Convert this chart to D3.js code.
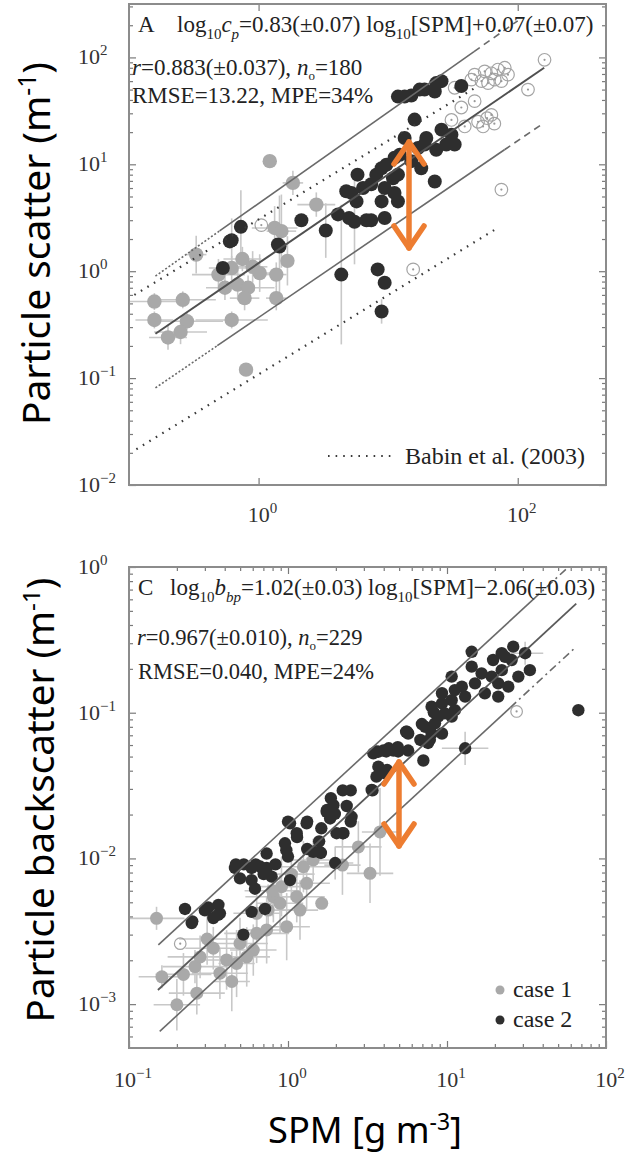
<!DOCTYPE html>
<html><head><meta charset="utf-8">
<script src="https://cdn.jsdelivr.net/npm/d3@7"></script>
<style>body{margin:0;background:#fff}svg{display:block}</style>
</head><body>
<svg id="c" width="628" height="1155"></svg>
<script>
// ---------------- DATA ----------------
// Panel A : particle scatter vs SPM   [x, y, xErrFactor, yErrFactor]
const aCase1 = [
 [1.22,10.7,1,1],[1.84,6.7,1.2,1.3],[2.79,4.2,1.4,1.3],[1.33,2.54,1.5,1.6],[1.5,2.37,1.3,2.2],
 [0.33,1.43,1.2,1.5],[0.49,0.93,1.6,1.4],[0.62,1.07,1.5,1.3],[0.69,0.75,1.3,1.4],[0.83,0.70,1.6,1.3],
 [0.78,0.56,1.3,1.3],[0.55,0.70,1.4,1.3],[0.75,1.3,1.4,1.3],[0.9,1.1,1.3,1.4],[1.02,0.96,1.2,1.5],
 [1.37,0.93,1.2,1.3],[1.37,0.56,1.2,1.3],[0.157,0.52,1.6,1.2],[0.26,0.54,1.8,1.2],[0.157,0.35,1.4,1.2],
 [0.28,0.34,1.9,1.2],[0.25,0.27,1.6,1.3],[0.2,0.24,1.4,1.3],[0.62,0.35,1.9,1.2],[0.80,0.12,1,1],
 [1.67,1.25,1,1.7]
];
const aCase2 = [
 [0.62,1.95,1,1.6],[0.73,2.6,1,2.2],[1.45,1.7,1,3.0],[0.53,1.07,1,1],[4.35,0.93,1,4.5],[2.14,3.0,1,1],
 [3.3,2.4,1,1.8],[4.1,3.4,1,1],[5.5,2.9,1,2.5],[5.2,5.4,1,1],[5.8,8.0,1,1],[7.4,6.5,1,1],[9.4,6.0,1,1],
 [11.2,5.4,1,1],[8.9,4.5,1,1],[11.9,4.5,1,1],[7.4,3.0,1,1],[9.4,3.15,1,1],[8.9,9.2,1,1],[11.2,11.5,1,1],
 [15.1,10.7,1,1],[18.0,9.2,1,1],[17.0,14.2,1,1],[11.9,8.0,1,1],[13.4,17.6,1,1],[16.0,26.2,1,1],
 [19.1,15.3,1,1],[23.5,13.7,1,1],[22.9,6.9,1,1],[25.8,21.1,1,1],[30.8,18.9,1,1],[32.6,15.3,1,1],
 [11.9,43,1,1],[13.4,43,1,1],[15.1,44,1,1],[19.1,50,1,1],[22.9,48,1,1],[23.5,57.5,1,1],[25.8,60,1,1],
 [36.7,54,1,1],[8.3,1.04,1,1],[9.4,0.78,1,1],[8.9,0.42,1,1.3],[4.75,5.6,1,1],[6.4,6.0,1,1],[8.1,8.0,1,1],
 [9.7,9.9,1,1],[10.9,7.4,1,1],[12.3,12.3,1,1],[5.7,4.5,1,1],[5.0,3.15,1,1],[6.8,3.0,1,1],[28.1,15.3,1,1],
 [19.7,17.6,1,1],[17.5,50,1,1],[1.41,1.78,1,1],[0.6,1.9,1,1]
];
const aOpen = [
 [161,95],[120,50],[46.5,69],[55.6,74],[62.6,71],[70.4,77],[79.4,80],[84.1,69],[66.4,62],[74.8,60],
 [59,57.5],[52.5,60],[43.9,62],[32.6,52],[36.7,34],[46.5,39],[30.8,26],[62.6,29],[49.4,25],[54,22.6],
 [39,22.6],[74.8,5.8],[15.6,1.04],[1.05,2.7],[58,27],[66,24]
];
// Lines: endpoints [x,y] and break x-values between line styles
const aRegLine = [[0.16,0.26],[160,80]];
const aUpperLine = [[0.16,0.9],[100,220]];   const aUpperBreaks = [0.5,46];
const aLowerLine = [[0.16,0.081],[152,23.5]]; const aLowerBreaks = [0.48,79];
const aBabinUpper = [[0.11,0.6],[46.5,51.6]];
const aBabinLower = [[0.114,0.0216],[70,2.54]];
const aXDomain = [0.1,480], aYDomain = [0.01,316];
const aXTicks = [1,100], aXTickExp = ["0","2"];
const aYTicks = [0.01,0.1,1,10,100], aYTickExp = ["\u22122","\u22121","0","1","2"];

// Panel C : particle backscatter vs SPM
const cCase1 = [
 [0.149,0.00388,1.5,1.2],[0.161,0.00154,1.4,1.2],[0.2,0.00099,1.4,1.5],[0.267,0.00119,1.5,1.4],
 [0.26,0.00181,1.6,1.3],[0.339,0.00242,1.5,1.4],[0.411,0.00201,1.4,1.6],[0.475,0.0019,1.3,1.7],
 [0.499,0.00261,1.5,1.5],[0.605,0.00235,1.4,1.5],[0.635,0.00306,1.6,1.6],[0.734,0.00323,1.4,1.7],
 [0.809,0.00546,1.5,1.5],[0.891,0.00492,1.4,1.6],[1.135,0.00546,1.5,1.5],[1.19,0.00442,1.3,1.6],
 [0.981,0.0034,1.4,1.7],[1.25,0.00877,1.5,1.5],[1.44,0.00975,1.4,1.4],[1.63,0.00492,1,1],
 [3.28,0.0079,1.4,1.6],[3.79,0.0152,1.3,2.0],[2.77,0.012,1.4,1.5],[0.373,0.00163,1.5,1.5],
 [0.28,0.00211,1.6,1.4],[0.55,0.00211,1.4,1.6],[0.443,0.00143,1.3,1.6],[1.31,0.00675,1.4,1.5],
 [0.91,0.0064,1.5,1.6],[0.75,0.00442,1.4,1.5],[0.635,0.0042,1.4,1.4],[0.31,0.0028,1.5,1.5],
 [0.22,0.0016,1.5,1.4],[0.8,0.006,1.5,1.5],[1.05,0.0078,1.4,1.5],[2.2,0.009,1.3,1.6]
];
const cCase2 = [
 [67,0.104,1,1],[26.1,0.284,1,1],[31,0.256,1.3,1.2],[33.2,0.196,1,1],[23.2,0.242,1,1],[19.5,0.23,1,1],
 [14.3,0.262,1,1],[25.5,0.23,1,1],[22.1,0.196,1,1],[28.1,0.177,1,1],[14.3,0.207,1,1],[16.5,0.186,1,1],
 [15,0.159,1,1],[12.4,0.151,1,1],[13,0.129,1,1],[10.7,0.122,1,1],[21,0.129,1,1],[24.3,0.151,1,1],
 [11.2,0.104,1,1],[9.7,0.099,1,1],[9.3,0.116,1,1],[8.8,0.094,1,1],[8.4,0.0845,1,1],[10.7,0.094,1,1],
 [7.3,0.080,1,1],[8.0,0.072,1,1],[5.7,0.072,1,1],[6.8,0.065,1,1],[7.6,0.062,1,1],[9.3,0.072,1,1],
 [5.7,0.055,1,1],[4.9,0.058,1,1],[4.3,0.057,1,1],[3.7,0.054,1,1],[7.1,0.047,1,1],[13,0.057,1.4,1.3],
 [3.7,0.0426,1,1],[4.07,0.0384,1,1],[3.36,0.0295,1,1],[10.7,0.177,1,1],[11.2,0.143,1,1],[9.3,0.136,1,1],
 [8.0,0.11,1,1],[19.1,0.177,1,1],[17.3,0.136,1,1],[21,0.159,1,1],[22.1,0.256,1,1],[3.44,0.0526,1,1],
 [3.98,0.055,1,1],[4.6,0.055,1,1],[3.6,0.0364,1,1],[4.2,0.0404,1,1],[5.6,0.074,1,1],
 [0.25,0.0037,1,1],[0.315,0.0046,1,1],[0.363,0.0041,1,1],[0.47,0.0091,1,1],[0.527,0.0091,1,1],
 [0.627,0.0091,1,1],[0.703,0.0078,1,1],[0.834,0.0091,1,1],[1.0,0.0103,1,1],[1.0,0.0179,1,1],
 [1.32,0.0179,1,1],[1.14,0.014,1,1],[1.32,0.0116,1,1],[1.57,0.0131,1,1],[1.61,0.0109,1,1],
 [1.76,0.0215,1,1],[1.97,0.0202,1,1],[1.86,0.0259,1,1],[2.21,0.0293,1,1],[2.48,0.0293,1,1],
 [2.34,0.0229,1,1],[2.48,0.0179,1,1],[2.21,0.0149,1,1],[3.4,0.0293,1,1],[3.6,0.0542,1,1],
 [4.15,0.0542,1,1],[4.93,0.0542,1,1],[5.53,0.074,1,1],[6.95,0.0836,1,1],[8.26,0.1006,1,1],[7.8,0.0653,1,1],
 [0.225,0.0045,1,1],[0.248,0.0036,1,1],[0.30,0.0044,1,1],[0.339,0.0039,1,1],[0.373,0.0042,1,1],
 [0.365,0.0048,1,1],[0.59,0.0043,1,1],[0.717,0.0045,1,1],[0.524,0.0030,1,1],[0.464,0.0086,1,1],
 [0.499,0.0073,1,1],[0.59,0.0086,1,1],[0.667,0.0088,1,1],[0.734,0.0086,1,1],[0.59,0.0071,1,1],
 [0.62,0.0062,1,1],[0.789,0.0075,1,1],[0.734,0.0108,1,1],[0.957,0.0127,1,1],[0.976,0.0114,1,1],
 [1.03,0.0071,1,1],[1.135,0.0149,1,1],[1.03,0.0174,1,1],[1.31,0.0174,1,1],[1.44,0.0111,1,1],
 [1.58,0.0111,1,1],[1.62,0.0161,1,1],[1.84,0.0188,1,1],[1.75,0.0209,1,1],[1.93,0.0232,1,1],
 [2.02,0.0149,1,1],[2.23,0.0149,1,1],[2.51,0.0193,1,1],[1.98,0.0093,1.3,1.3]
];
const cOpen = [[27.4,0.102],[0.21,0.0026]];
const cRegLine = [[0.152,0.00125],[65,0.56]];
const cUpperLine = [[0.153,0.00255],[58,1.0]];  const cUpperBreaks = [0.153,35];
const cLowerLine = [[0.156,0.00065],[65,0.284]]; const cLowerBreaks = [0.156,25];
const cXDomain = [0.1,100], cYDomain = [0.0005,1];
const cXTicks = [0.1,1,10,100], cXTickExp = ["\u22121","0","1","2"];
const cYTicks = [0.001,0.01,0.1,1], cYTickExp = ["\u22123","\u22122","\u22121","0"];

// ---------------- DRAW ----------------
const svg = d3.select("#c");
const serif = "'Liberation Serif','Times New Roman',serif";
const sans = "'Noto Sans','Open Sans',sans-serif";
const DARK = "#2f2f2f", LIGHT = "#a9a9a9", ERR = "#c8c8c8", FRAME = "#8c8c8c";

const defs = svg.append("defs");
defs.append("filter").attr("id","soft").append("feGaussianBlur").attr("stdDeviation",0.6);

function minorTicks(dom){
  const out=[]; const lo=Math.floor(Math.log10(dom[0])), hi=Math.ceil(Math.log10(dom[1]));
  for(let e=lo;e<hi;e++) for(let m=2;m<=9;m++){const v=m*Math.pow(10,e); if(v>dom[0]&&v<dom[1]) out.push(v);}
  return out;
}
function interp(line, xv){ // point on the straight line in log-log space
  const [p,q]=line; const t=(Math.log10(xv)-Math.log10(p[0]))/(Math.log10(q[0])-Math.log10(p[0]));
  return [xv, Math.pow(10, Math.log10(p[1])+t*(Math.log10(q[1])-Math.log10(p[1])))];
}

function panel(o){
  const x = d3.scaleLog().domain(o.xDom).range([o.L,o.R]);
  const y = d3.scaleLog().domain(o.yDom).range([o.B,o.T]);
  const id = "clip"+o.name;
  defs.append("clipPath").attr("id",id).append("rect").attr("x",o.L).attr("y",o.T).attr("width",o.R-o.L).attr("height",o.B-o.T);
  const g = svg.append("g");
  const plot = g.append("g").attr("clip-path",`url(#${id})`);
  return {x,y,g,plot,o};
}

function drawErr(P, data){
  const gg = P.plot.append("g").attr("stroke",ERR).attr("stroke-width",1.6);
  data.forEach(d=>{
    const [vx,vy,ex,ey]=d;
    if(ex>1) gg.append("line").attr("x1",P.x(vx/ex)).attr("x2",P.x(vx*ex)).attr("y1",P.y(vy)).attr("y2",P.y(vy));
    if(ey>1) gg.append("line").attr("x1",P.x(vx)).attr("x2",P.x(vx)).attr("y1",P.y(vy/ey)).attr("y2",P.y(vy*ey));
  });
}
function drawPts(P, data, fill, r){
  P.plot.append("g").attr("filter","url(#soft)").selectAll("circle").data(data).join("circle")
    .attr("cx",d=>P.x(d[0])).attr("cy",d=>P.y(d[1])).attr("r",r).attr("fill",fill);
}
function drawOpen(P, data, r){
  const gg=P.plot.append("g");
  gg.selectAll("circle.o").data(data).join("circle").attr("class","o")
    .attr("cx",d=>P.x(d[0])).attr("cy",d=>P.y(d[1])).attr("r",r).attr("fill","none").attr("stroke","#a4a4a4").attr("stroke-width",1.2);
  gg.selectAll("circle.d").data(data).join("circle").attr("class","d")
    .attr("cx",d=>P.x(d[0])).attr("cy",d=>P.y(d[1])).attr("r",1.1).attr("fill","#999");
}
function seg(P, a, b, color, w, dash){
  const path = P.plot.append("path").attr("d", d3.line().x(d=>P.x(d[0])).y(d=>P.y(d[1]))([a,b]))
    .attr("stroke",color).attr("stroke-width",w).attr("fill","none");
  if(dash) path.attr("stroke-dasharray",dash);
  return path;
}
function styledLine(P, line, breaks, styles, color, w){
  const xs=[line[0][0],...breaks,line[1][0]];
  for(let i=0;i<xs.length-1;i++){
    if(xs[i+1]<=xs[i]) continue;
    seg(P, interp(line,xs[i]), interp(line,xs[i+1]), color, w, styles[i]);
  }
}
function frameAxes(P, xMaj, xExp, yMaj, yExp, xMinor, lab){
  const {L,R,T,B}=P.o;
  const ax=(gen,scale,vals,size,tr)=>{
    const a=P.g.append("g").attr("transform",tr).call(gen(scale).tickValues(vals).tickSize(size).tickFormat(""));
    a.select(".domain").remove(); a.selectAll("line").attr("stroke","#7a7a7a").attr("stroke-width",1.2);
  };
  ax(d3.axisBottom,P.x,xMaj,-7,`translate(0,${B})`); ax(d3.axisTop,P.x,xMaj,-7,`translate(0,${T})`);
  ax(d3.axisLeft,P.y,yMaj,-7,`translate(${L},0)`); ax(d3.axisRight,P.y,yMaj,-7,`translate(${R},0)`);
  const ym=minorTicks(P.o.yDom);
  ax(d3.axisLeft,P.y,ym,-4,`translate(${L},0)`); ax(d3.axisRight,P.y,ym,-4,`translate(${R},0)`);
  if(xMinor){const xm=minorTicks(P.o.xDom);
    ax(d3.axisBottom,P.x,xm,-4,`translate(0,${B})`); ax(d3.axisTop,P.x,xm,-4,`translate(0,${T})`);}
  P.g.append("rect").attr("x",L).attr("y",T).attr("width",R-L).attr("height",B-T)
    .attr("fill","none").attr("stroke",FRAME).attr("stroke-width",2);
  yMaj.forEach((v,i)=>{
    const t=P.g.append("text").attr("x",lab.yx).attr("y",P.y(v)+lab.ydy).attr("font-family",serif)
      .attr("font-size",lab.fs).attr("fill","#333");
    t.append("tspan").text("10");
    t.append("tspan").attr("dy",-lab.sup).attr("font-size",lab.fs2).text(yExp[i]);
  });
  xMaj.forEach((v,i)=>{
    const t=P.g.append("text").attr("x",P.x(v)+lab.xdx).attr("y",lab.xy).attr("font-family",serif)
      .attr("font-size",lab.fs).attr("fill","#333").attr("text-anchor","middle");
    t.append("tspan").text("10");
    t.append("tspan").attr("dy",-lab.sup).attr("font-size",lab.fs2).text(xExp[i]);
  });
}
function eqText(g, x, y, fs, parts){
  const t=g.append("text").attr("x",x).attr("y",y).attr("font-family",serif).attr("font-size",fs).attr("fill","#222");
  let cur=0;
  parts.forEach(p=>{
    const off=p.sub?(p.off||Math.round(fs*0.3)):0;
    const s=t.append("tspan").text(p.t).attr("dy",off-cur);
    cur=off;
    if(p.sub) s.attr("font-size",p.fs||Math.round(fs*0.65));
    if(p.i) s.attr("font-style","italic");
  });
  return t;
}

// ---------- Panel A ----------
const A = panel({name:"A",L:129,R:606,T:4,B:485,xDom:aXDomain,yDom:aYDomain});
drawErr(A, aCase1); drawErr(A, aCase2);
drawOpen(A, aOpen, 6.3);
drawPts(A, aCase1, LIGHT, 7.2);
drawPts(A, aCase2, DARK, 7);
seg(A, aBabinUpper[0], aBabinUpper[1], "#3a3a3a", 2.2, "1.6,6");
seg(A, aBabinLower[0], aBabinLower[1], "#3a3a3a", 2.2, "1.6,6");
seg(A, aRegLine[0], aRegLine[1], "#505050", 2);
styledLine(A, aUpperLine, aUpperBreaks, ["2,2",null,"7,5"], "#6a6a6a", 1.6);
styledLine(A, aLowerLine, aLowerBreaks, ["2,2",null,"7,5"], "#6a6a6a", 1.6);
frameAxes(A, aXTicks, aXTickExp, aYTicks, aYTickExp, false,
  {yx:78, ydy:7, xy:522, xdx:4, fs:22, fs2:15, sup:9});

eqText(A.g,138,32,23,[{t:"A"}]);
eqText(A.g,177,32,23,[{t:"log"},{t:"10",sub:1},{t:"c",i:1},{t:"p",i:1,sub:1},{t:"=0.83(±0.07) log"},{t:"10",sub:1},{t:"[SPM]+0.07(±0.07)"}]);
eqText(A.g,132,75,23,[{t:"r",i:1},{t:"=0.883(±0.037), "},{t:"n",i:1},{t:"o",sub:1,off:5,fs:13},{t:"=180"}]);
eqText(A.g,132,103,23,[{t:"RMSE=13.22, MPE=34%"}]);
A.g.append("path").attr("d",d3.line()([[328,456],[394,456]])).attr("stroke","#3a3a3a").attr("stroke-width",2.2).attr("stroke-dasharray","1.6,6");
A.g.append("text").attr("x",405).attr("y",464).attr("font-family",serif).attr("font-size",24).attr("fill","#222").text("Babin et al. (2003)");

// ---------- Panel C ----------
const C = panel({name:"C",L:129,R:606,T:567,B:1048,xDom:cXDomain,yDom:cYDomain});
drawErr(C, cCase1); drawErr(C, cCase2);
drawOpen(C, cOpen, 5.8);
drawPts(C, cCase1, LIGHT, 6.5);
drawPts(C, cCase2, DARK, 6.2);
seg(C, cRegLine[0], cRegLine[1], "#5a5a5a", 1.8);
styledLine(C, cUpperLine, cUpperBreaks, [null,null,"8,4,2,4"], "#6a6a6a", 1.6);
styledLine(C, cLowerLine, cLowerBreaks, [null,null,"8,4,2,4"], "#6a6a6a", 1.6);
frameAxes(C, cXTicks, cXTickExp, cYTicks, cYTickExp, true,
  {yx:78, ydy:7, xy:1087, xdx:4, fs:22, fs2:15, sup:9});
eqText(C.g,138,595,23,[{t:"C"}]);
eqText(C.g,170,595,23,[{t:"log"},{t:"10",sub:1},{t:"b",i:1},{t:"bp",i:1,sub:1},{t:"=1.02(±0.03) log"},{t:"10",sub:1},{t:"[SPM]\u22122.06(±0.03)"}]);
eqText(C.g,137,645,22.5,[{t:"r",i:1},{t:"=0.967(±0.010), "},{t:"n",i:1},{t:"o",sub:1,off:5,fs:13},{t:"=229"}]);
eqText(C.g,138,679,22.5,[{t:"RMSE=0.040, MPE=24%"}]);
C.g.append("circle").attr("cx",500).attr("cy",990).attr("r",4.5).attr("fill",LIGHT);
C.g.append("circle").attr("cx",500).attr("cy",1020).attr("r",4.5).attr("fill",DARK);
C.g.append("text").attr("x",513).attr("y",997).attr("font-family",serif).attr("font-size",24).attr("fill","#222").text("case 1");
C.g.append("text").attr("x",513).attr("y",1027).attr("font-family",serif).attr("font-size",24).attr("fill","#222").text("case 2");

// ---------- Axis titles (sans) ----------
function fitTitle(parts, len, attrs){
  const t=svg.append("text").attr("font-family",sans).attr("font-size",38).attr("fill","#000");
  Object.entries(attrs).forEach(([k,v])=>t.attr(k,v));
  const subs=[];
  parts.forEach(p=>{const s=t.append("tspan").text(p.t); subs.push([s,p]);
    if(p.sup){s.attr("font-size",24).attr("dy",-14);} else if(p.after){s.attr("dy",14);} });
  const w=t.node().getComputedTextLength();
  const f=len/w;
  t.attr("font-size",38*f);
  subs.forEach(([s,p])=>{ if(p.sup){s.attr("font-size",24*f).attr("dy",-14*f);} else if(p.after){s.attr("dy",14*f);} });
  return t;
}
fitTitle([{t:"Particle scatter (m"},{t:"-1",sup:1},{t:")",after:1}],363,
  {"text-anchor":"middle",transform:"translate(50,243.5) rotate(-90)"});
fitTitle([{t:"Particle backscatter (m"},{t:"-1",sup:1},{t:")",after:1}],445,
  {"text-anchor":"middle",transform:"translate(54,800) rotate(-90)"});
fitTitle([{t:"SPM [g m"},{t:"-3",sup:1},{t:"]",after:1}],194,
  {"text-anchor":"middle",transform:"translate(365,1143)"});

// ---------- Orange arrows ----------
function arrow(x,y1,y2){
  const g=svg.append("g").attr("stroke","#ED7D31").attr("stroke-width",5.5).attr("fill","none")
    .attr("stroke-linecap","round").attr("stroke-linejoin","round");
  g.append("path").attr("d",`M${x},${y1+2}L${x},${y2-2}`);
  g.append("path").attr("d",`M${x-15},${y1+24}L${x},${y1+2}L${x+15},${y1+24}`);
  g.append("path").attr("d",`M${x-15},${y2-24}L${x},${y2-2}L${x+15},${y2-24}`);
}
arrow(409,140,250);
arrow(399,760,848);
</script>
</body></html>
